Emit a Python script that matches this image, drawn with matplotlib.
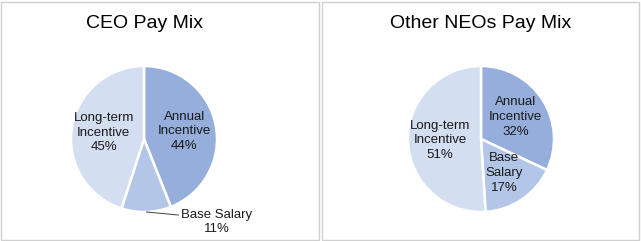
import numpy as np
import matplotlib
matplotlib.use("Agg")
import matplotlib.pyplot as plt
from matplotlib.patches import Rectangle

plt.rcParams['font.family'] = ['Liberation Sans', 'DejaVu Sans']

# data
categories = ['Annual\nIncentive', 'Base Salary', 'Long-term\nIncentive']
ceo_values = [44, 11, 45]
neo_values = [32, 17, 51]
titles = ['CEO Pay Mix', 'Other NEOs Pay Mix']
colors = ['#95AEDB', '#B4C6E7', '#D4DEF1']

W, H = 641, 241
fig = plt.figure(figsize=(W / 100, H / 100), dpi=100)

# panel borders
for x0, x1 in [(1, 319), (322, 639)]:
    fig.patches.append(Rectangle((x0 / W, 1 / H), (x1 - x0) / W, (H - 3) / H,
                                 transform=fig.transFigure, fill=False,
                                 edgecolor='#D0D0D0', linewidth=1))

R = 73
half = 95
centers = [(144, 139), (481, 139)]

for i, (vals, title) in enumerate(zip([ceo_values, neo_values], titles)):
    cx, cy = centers[i]
    ax = fig.add_axes([(cx - half) / W, (H - cy - half) / H, 2 * half / W, 2 * half / H])
    wedges, _ = ax.pie(vals, colors=colors, radius=R, startangle=90, counterclock=False,
                       wedgeprops=dict(edgecolor='white', linewidth=1.8))
    ax.set_xlim(-half, half)
    ax.set_ylim(-half, half)
    ax.axis('off')
    for j, (w, v) in enumerate(zip(wedges, vals)):
        ang = np.deg2rad((w.theta1 + w.theta2) / 2)
        lab = categories[j]
        if i == 0 and j == 1:
            # outside label with leader line
            x0, y0 = R * np.cos(ang), R * np.sin(ang)
            ax.annotate(f'{lab}\n{v}%', xy=(x0, y0), xytext=(73, -83),
                        ha='center', va='center', fontsize=9.5, color='#1a1a1a',
                        annotation_clip=False, linespacing=1.3,
                        arrowprops=dict(arrowstyle='-', color='#404040', lw=0.7,
                                        relpos=(0, 0.75), shrinkA=0, shrinkB=0))
            continue
        if i == 1 and j == 1:
            lab = 'Base\nSalary'
        r = 0.56 * R
        ax.text(r * np.cos(ang), r * np.sin(ang), f'{lab}\n{v}%', ha='center', va='center',
                fontsize=9.5, color='#1a1a1a', linespacing=1.3)
    fig.text(cx / W, 1 - 24 / H, title, ha='center', va='center', fontsize=14, color='black')

fig.savefig('out.png', dpi=100)
